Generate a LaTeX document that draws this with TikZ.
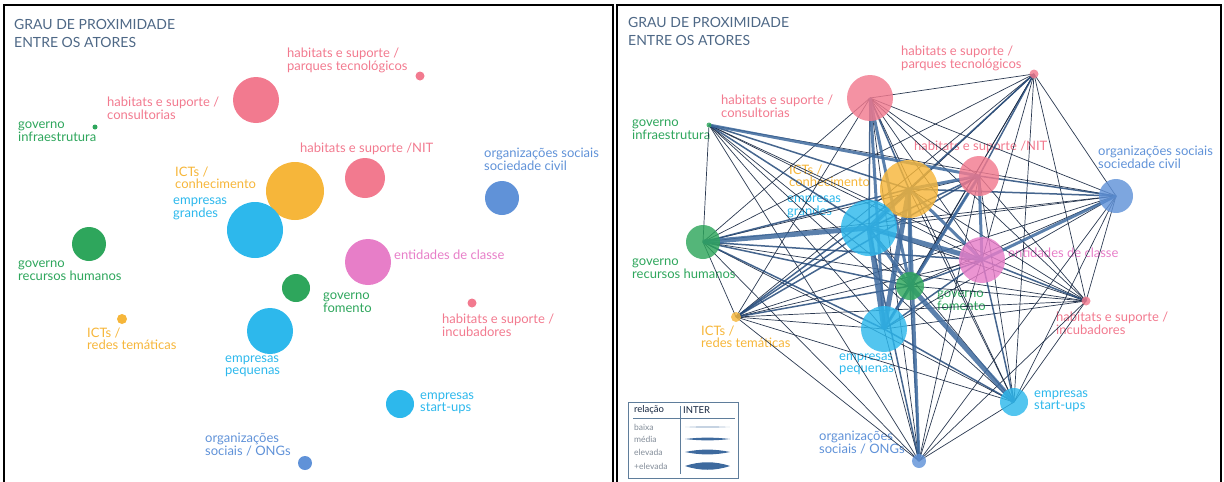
\documentclass[tikz,border=0pt]{standalone}
\usepackage{fontspec}
\setmainfont{Lato}

\definecolor{habpink}{RGB}{242,122,143}
\definecolor{govgreen}{RGB}{46,166,92}
\definecolor{ictorange}{RGB}{246,182,58}
\definecolor{empcyan}{RGB}{45,184,236}
\definecolor{orgblue}{RGB}{96,146,216}
\definecolor{entmagenta}{RGB}{231,126,200}
\definecolor{titcor}{RGB}{78,104,134}
\definecolor{ligescura}{RGB}{20,36,62}
\definecolor{ligmedia}{RGB}{36,74,122}
\definecolor{ligclara}{RGB}{62,106,158}
\definecolor{legcor}{RGB}{95,125,155}
\definecolor{leggray}{RGB}{130,140,152}

\pgfdeclarelayer{rotulos}
\pgfdeclarelayer{ligacoes}
\pgfsetlayers{rotulos,ligacoes,main}

\begin{document}
\begin{tikzpicture}[x=1pt,y=-1pt,
	moldura/.style={line width=1.5pt,draw=black},
	actor/.style={circle,inner sep=0pt,draw=none},
	rotulo/.style={anchor=north west,inner sep=0pt,align=left,font=\fontsize{13}{11.5}\selectfont},
	titulo/.style={anchor=north west,inner sep=0pt,align=left,text=titcor,font=\fontsize{14}{18}\selectfont},
	baixa/.style={line width=0.7pt,draw=ligescura,opacity=0.9},
	media/.style={line width=1.5pt,draw=ligmedia,opacity=0.85},
	elevada/.style={line width=3pt,draw=ligclara,opacity=0.85},
	maiselevada/.style={line width=5pt,draw=ligclara,opacity=0.85}]
	
	\useasboundingbox (0,0) rectangle (1224,482);
	
	% molduras
	\draw[moldura] (4,5) rectangle (613,495);
	\draw[moldura] (617,5) rectangle (1221,495);
	
	% os dois paineis: L sem ligacoes, R com ligacoes
	\foreach \p/\dx/\dy/\op in {L/0/0/1,R/614/-2/0.82}{
		\begin{scope}[shift={(\dx,\dy)}]
			\foreach \n/\x/\y/\r/\c in {pq/420/76/4.5/habpink,cons/256/100/23/habpink,
				ginf/95/127/2.5/govgreen,nit/365/178/20/habpink,osc/502/198/17/orgblue,
				ictc/295/191/29/ictorange,eg/255/230/28/empcyan,grh/89/244/17/govgreen,
				ent/368/262/23/entmagenta,gfom/296/288/14/govgreen,inc/472/303/4.5/habpink,
				ictr/122/319/5/ictorange,ep/270/331/23/empcyan,su/400/404/14/empcyan,
				ong/305/463/7/orgblue}
			\node[actor,fill=\c,fill opacity=\op,minimum size={2*\r pt}] (\p\n) at (\x,\y) {};
			
			\begin{pgfonlayer}{rotulos}
				\node[titulo] (\p-tit) at (14,19) {GRAU DE PROXIMIDADE\\ENTRE OS ATORES};
				\foreach \n/\x/\y/\c/\t in {pq/287/48/habpink/{habitats e suporte /\\parques tecnológicos},
					cons/107/97/habpink/{habitats e suporte /\\consultorias},
					ginf/18/122/govgreen/{governo\\infraestrutura},
					nit/300/143/habpink/{habitats e suporte /NIT},
					osc/484/148/orgblue/{organizações sociais\\sociedade civil},
					ictc/175/167/ictorange/{ICTs /\\conhecimento},
					eg/173/198/empcyan/{empresas\\grandes},
					grh/18/261/govgreen/{governo\\recursos humanos},
					ent/394/250/entmagenta/{entidades de classe},
					gfom/323/293/govgreen/{governo\\fomento},
					inc/442/314/habpink/{habitats e suporte /\\incubadores},
					ictr/87/328/ictorange/{ICTs /\\redes temáticas},
					ep/225/356/empcyan/{empresas\\pequenas},
					su/420/393/empcyan/{empresas\\start-ups},
					ong/205/433/orgblue/{organizações\\sociais / ONGs}}
				\node[rotulo,text=\c] (\p\n-rot) at (\x,\y) {\t};
			\end{pgfonlayer}
		\end{scope}
	}
	
	% ligacoes do painel R
	\begin{pgfonlayer}{ligacoes}
		\foreach \a/\b in {pq/cons,pq/osc,pq/eg,pq/grh,pq/ent,pq/gfom,pq/inc,pq/ictr,pq/ep,pq/su,
			cons/nit,cons/osc,cons/grh,cons/ent,cons/inc,cons/ictr,cons/su,cons/ong,
			ginf/osc,ginf/grh,ginf/ent,ginf/gfom,ginf/inc,ginf/ep,ginf/su,ginf/ong,
			nit/grh,nit/inc,nit/su,nit/ong,
			osc/eg,osc/grh,osc/gfom,osc/inc,osc/ictr,osc/ep,osc/su,osc/ong,
			ictc/inc,ictc/su,eg/inc,eg/su,grh/inc,grh/ictr,grh/su,grh/ong,
			ent/ictr,ent/ong,gfom/inc,gfom/ep,inc/ictr,inc/ep,inc/su,inc/ong,
			ictr/ep,ictr/su,ictr/ong,ep/ong,su/ong}
		\draw[baixa] (R\a.center) -- (R\b.center);
		\foreach \a/\b in {grh/ictc,grh/ent,ictr/eg,ictr/ictc,ictr/nit,ictr/gfom,ong/gfom,ong/eg,
			ep/su,cons/eg,cons/ictc,gfom/ent,gfom/nit,nit/osc,ent/inc,pq/ictc,pq/nit,
			grh/gfom,grh/ep,ginf/eg,ginf/ictc,ep/ent,eg/nit,ictc/osc,su/ent}
		\draw[media] (R\a.center) -- (R\b.center);
		\foreach \a/\b in {ictc/ent,nit/ent,ictc/nit,eg/gfom,ent/osc,cons/ep,cons/gfom,
			ginf/nit,ictc/gfom,ep/nit,ong/ictc}
		\draw[elevada] (R\a.center) -- (R\b.center);
		\foreach \a/\b in {grh/eg,eg/ent,gfom/su,ictc/ep,eg/ictc,eg/ep}
		\draw[maiselevada] (R\a.center) -- (R\b.center);
	\end{pgfonlayer}
	
	% legenda
	\draw[legcor,line width=1pt] (628,402) rectangle (738,478);
	\draw[legcor,line width=0.8pt] (680,406) -- (680,474);
	\draw[legcor,line width=0.8pt] (633,418) -- (735,418);
	\node[anchor=west,inner sep=0pt,text=ligescura,font=\fontsize{9.5}{9.5}\selectfont] (relacao) at (634,410) {relação};
	\node[anchor=west,inner sep=0pt,text=ligescura,font=\fontsize{9.5}{9.5}\selectfont] (inter) at (683,410) {INTER};
	\foreach \t/\yy/\h/\c in {baixa/427/0.9/ligclara!45,média/439/1.8/ligclara,elevada/452/3.2/ligclara,+elevada/466/5/ligclara}{
		\node[anchor=west,inner sep=0pt,text=leggray,font=\fontsize{8.5}{8.5}\selectfont] (leg-\yy) at (634,\yy) {\t};
		\fill[\c] (685,\yy) .. controls (700,\yy-\h) and (715,\yy-\h) .. (730,\yy)
			.. controls (715,\yy+\h) and (700,\yy+\h) .. cycle;
	}
\end{tikzpicture}
\end{document}
